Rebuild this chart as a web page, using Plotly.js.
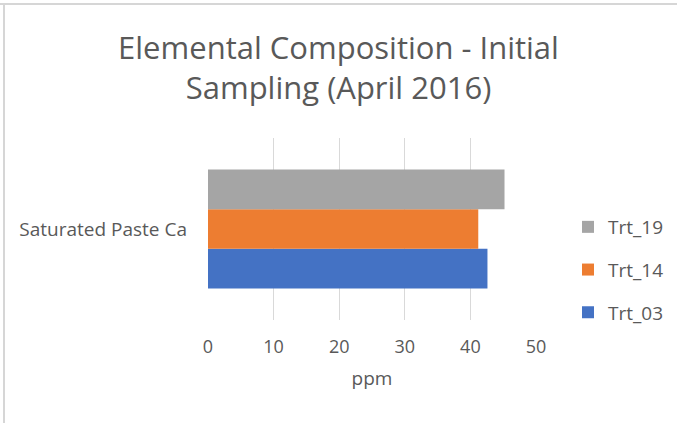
<!DOCTYPE html>
<html>
<head>
<meta charset="utf-8">
<script src="https://cdn.plot.ly/plotly-3.0.1.min.js"></script>
<style>
html,body{margin:0;padding:0;background:#fff;}
#wrap{position:relative;width:677px;height:423px;}
#chart{width:677px;height:423px;}
.edge{position:absolute;background:#d6d6d6;pointer-events:none;}
</style>
</head>
<body>
<div id="wrap">
<div id="chart"></div>
<div class="edge" style="left:0;top:3px;width:677px;height:2px;"></div>
<div class="edge" style="left:3px;top:3px;width:2px;height:420px;"></div>
</div>
<script>
const categories = ["Saturated Paste Ca"];
const seriesNames = ["Trt_03", "Trt_14", "Trt_19"];
const trt03 = [42.6];
const trt14 = [41.2];
const trt19 = [45.2];
const seriesValues = [trt03, trt14, trt19];
const seriesColors = ["#4472C4", "#ED7D31", "#A5A5A5"];
const legendRanks = [3, 2, 1];
const xTicks = [0, 10, 20, 30, 40, 50];

const fontFam = "Open Sans, Noto Sans, sans-serif";
const traces = seriesNames.map((n, i) => ({
  type: "bar",
  orientation: "h",
  name: n,
  y: categories,
  x: seriesValues[i],
  marker: {color: seriesColors[i]},
  legendgroup: n,
  legendrank: legendRanks[i],
  hoverinfo: "skip"
}));

const layout = {
  width: 677, height: 423,
  margin: {l: 208, r: 141, t: 138, b: 103},
  paper_bgcolor: "#ffffff",
  plot_bgcolor: "#ffffff",
  font: {family: fontFam, color: "#595959", size: 18},
  title: {
    text: "Elemental Composition - Initial<br>Sampling (April 2016)",
    font: {family: fontFam, size: 31, color: "#595959"},
    x: 0.5, xref: "container", xanchor: "center",
    y: 1 - 59/423, yref: "container", yanchor: "top"
  },
  barmode: "group",
  bargap: 0.345,
  bargroupgap: 0,
  xaxis: {
    range: [0, 50],
    tickvals: xTicks,
    ticktext: xTicks.map(String),
    showgrid: true,
    gridcolor: "#D9D9D9",
    gridwidth: 1,
    zeroline: false,
    showline: false,
    ticks: "",
    ticklabelstandoff: 14,
    tickfont: {size: 18, color: "#595959"},
    title: {text: "ppm", font: {size: 19, color: "#595959"}, standoff: 14},
    fixedrange: true
  },
  yaxis: {
    showgrid: false,
    zeroline: false,
    showline: false,
    ticks: "",
    ticklabelstandoff: 20,
    tickfont: {size: 19, color: "#595959"},
    fixedrange: true
  },
  showlegend: true,
  legend: {
    xref: "container", yref: "container",
    x: 568/677, xanchor: "left",
    y: 1 - 270/423, yanchor: "middle",
    traceorder: "grouped",
    tracegroupgap: 15,
    font: {size: 19, color: "#595959"},
    itemwidth: 30,
    bgcolor: "rgba(0,0,0,0)"
  }
};

Plotly.newPlot("chart", traces, layout, {displayModeBar: false, staticPlot: true});
</script>
</body>
</html>
